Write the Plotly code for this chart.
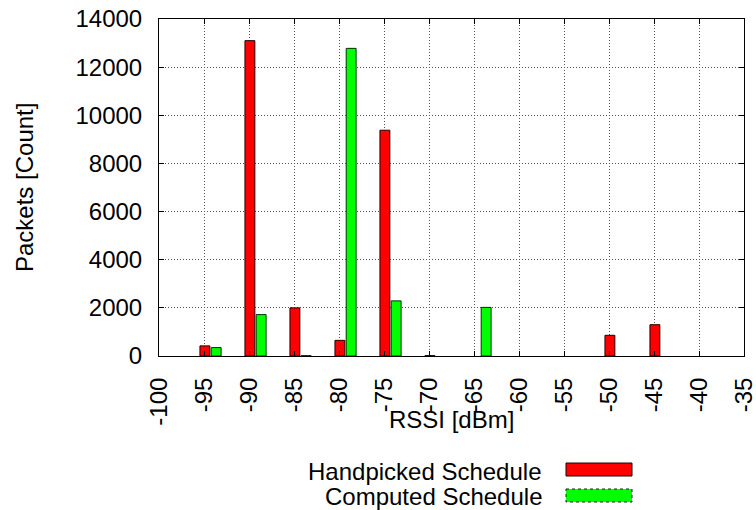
import plotly.graph_objects as go

rssi = [-95, -90, -85, -80, -75, -70, -65, -50, -45]
handpicked = [420, 13100, 2000, 650, 9380, 15, None, 860, 1300]
computed = [350, 1720, 15, 12780, 2290, None, 2020, None, None]

x_ticks = list(range(-100, -34, 5))
y_ticks = list(range(0, 14001, 2000))

series_names = ["Handpicked Schedule", "Computed Schedule"]
x_title = "RSSI [dBm]"
y_title = "Packets [Count]"

FONT = "Liberation Sans, Arial, Helvetica, sans-serif"
FS = 24

fig = go.Figure()
fig.add_trace(go.Bar(
    x=rssi, y=handpicked, name=series_names[0],
    width=1.1, offset=-0.45,
    marker=dict(color="#ff0000", line=dict(color="#200000", width=1)),
    showlegend=False,
))
fig.add_trace(go.Bar(
    x=rssi, y=computed, name=series_names[1],
    width=1.1, offset=0.8,
    marker=dict(color="#00ff00", line=dict(color="#003300", width=1)),
    showlegend=False,
))

L, R, T, B = 159, 12, 19, 154
W, H = 756, 510
plot_w = W - L - R
plot_h = H - T - B


def px(xp):
    return (xp - L) / plot_w


def py(yp):
    return (H - B - yp) / plot_h


GRID = dict(showgrid=True, gridcolor="#555555", griddash="1px,2px", gridwidth=1)

fig.update_layout(
    width=W, height=H,
    margin=dict(l=L, r=R, t=T, b=B, autoexpand=False),
    paper_bgcolor="white", plot_bgcolor="white",
    barmode="overlay",
    font=dict(family=FONT, size=FS, color="black"),
)
fig.update_xaxes(
    range=[-100, -35], tickvals=x_ticks, ticktext=[str(v) for v in x_ticks],
    tickangle=-90, **GRID,
    showline=True, linecolor="black", linewidth=1, mirror="ticks",
    ticks="inside", ticklen=5, tickcolor="black",
    zeroline=False, automargin=False, ticklabeloverflow="allow",
    ticklabelstandoff=11,
    tickfont=dict(size=FS),
)
fig.update_yaxes(
    range=[0, 14000], tickvals=y_ticks, ticktext=[str(v) for v in y_ticks],
    **GRID,
    showline=True, linecolor="black", linewidth=1, mirror="ticks",
    ticks="inside", ticklen=5, tickcolor="black",
    zeroline=False, automargin=False, ticklabeloverflow="allow",
    ticklabelstandoff=11,
    tickfont=dict(size=FS),
)

# axis titles
fig.add_annotation(text=x_title, xref="paper", yref="paper", x=px(451), y=py(420),
                   showarrow=False, xanchor="center", yanchor="middle",
                   font=dict(size=FS, family=FONT))
fig.add_annotation(text=y_title, xref="paper", yref="paper", x=px(24), y=py(188),
                   showarrow=False, xanchor="center", yanchor="middle", textangle=-90,
                   font=dict(size=FS, family=FONT))

# Legend drawn manually (text on the left, sample box on the right)
rows_px = [(series_names[0], "#ff0000", "#200000", "solid", 471, 469.5),
           (series_names[1], "#00ff00", "#003300", "dot", 496, 495.5)]
for name, fill, line_c, dash, ytxt, ybox in rows_px:
    fig.add_annotation(
        text=name, xref="paper", yref="paper", x=px(544), y=py(ytxt),
        showarrow=False, xanchor="right", yanchor="middle",
        font=dict(size=FS, family=FONT),
    )
    fig.add_shape(
        type="rect", xref="paper", yref="paper",
        x0=px(566), x1=px(632),
        y0=py(ybox - 6.5), y1=py(ybox + 6.5),
        fillcolor=fill, line=dict(color=line_c, width=1, dash=dash),
    )

fig.write_html(
    "out.html",
    config={"displayModeBar": False},
    post_script="document.body.style.margin='0';document.body.style.overflow='hidden';",
)
